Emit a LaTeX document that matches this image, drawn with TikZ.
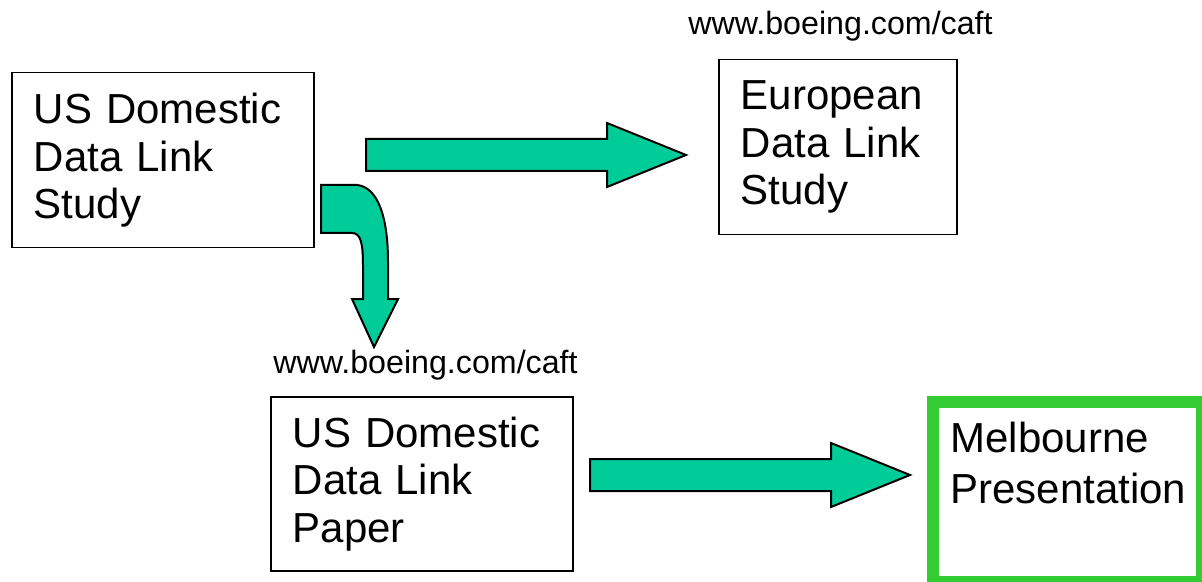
\documentclass[tikz,border=0pt]{standalone}
\usepackage{fontspec}
\setmainfont{Liberation Sans}
\definecolor{arrowfill}{RGB}{0,204,153}
\definecolor{melbgreen}{RGB}{51,204,51}
\begin{document}
\begin{tikzpicture}[x=0.5pt, y=-0.5pt,
  studybox/.style={draw, line width=0.75pt, anchor=north west, align=left,
    inner xsep=11pt, inner ysep=0pt, minimum height=87.5pt,
    font=\fontsize{21}{23.75}\selectfont},
  urltext/.style={anchor=base west, inner sep=0pt, font=\fontsize{16.1}{18}\selectfont},
  fatarrow/.style={draw, line width=1pt, fill=arrowfill, line join=miter}]
\useasboundingbox (0,0) rectangle (1202,582);

\node[studybox, text width=129pt] (usstudy) at (11,72) {US Domestic\\Data Link\\Study};
\node[studybox, text width=97pt] (eustudy) at (718,59) {European\\Data Link\\Study};
\node[studybox, text width=129pt, minimum height=87pt] (uspaper) at (270,396) {US Domestic\\Data Link\\Paper};

\node[urltext] (eulink) at (688,35) {www.boeing.com/caft};
\node[urltext] (paperlink) at (273,373) {www.boeing.com/caft};

\node[draw=melbgreen, line width=6pt, anchor=north west, inner sep=0pt,
  minimum width=134.75pt, minimum height=90.25pt] (melbbox) at (926.5,395.5) {};
\node[anchor=north west, inner sep=0pt, align=left,
  font=\fontsize{21}{25.5}\selectfont] (melbtext) at (950,422) {Melbourne\\Presentation};

% straight arrows
\foreach \x/\y in {366/155, 590/475}
\draw[fatarrow] (\x,\y-16) -- (\x+241,\y-16) -- (\x+241,\y-32) -- (\x+320,\y)
  -- (\x+241,\y+32) -- (\x+241,\y+16) -- (\x,\y+16) -- cycle;

% bent arrow
\draw[fatarrow] (321,185) -- (357,185) .. controls (377,187) and (388,215) .. (388,262)
  -- (388,299) -- (398,299) -- (374,347) -- (352,299) -- (363,299) -- (363,266)
  .. controls (363,244) and (361,233) .. (352,233) -- (321,233) -- cycle;
\end{tikzpicture}
\end{document}
